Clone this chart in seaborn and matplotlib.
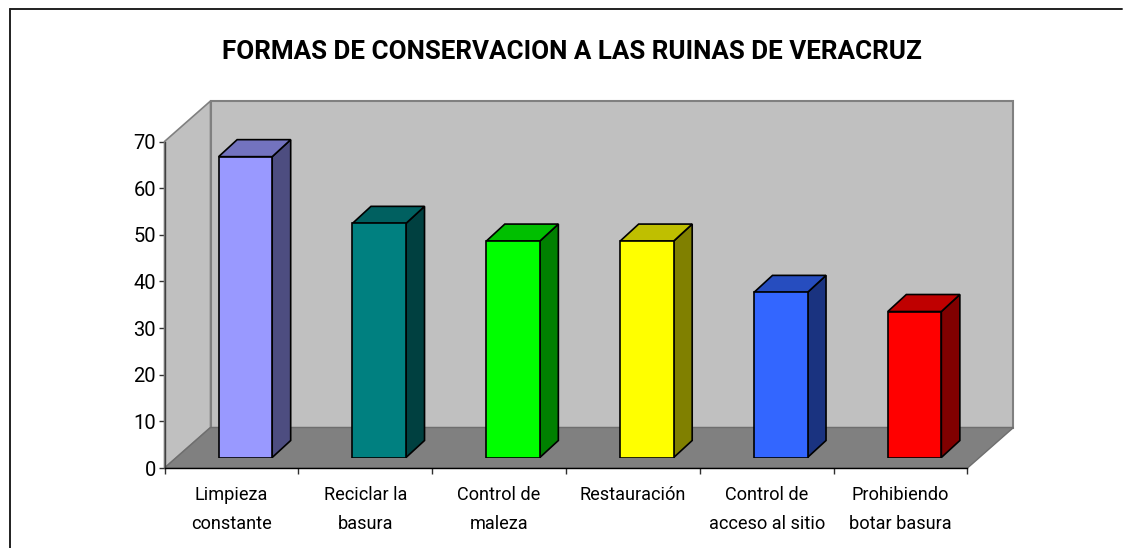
import numpy as np
import pandas as pd
import matplotlib.pyplot as plt
import seaborn as sns
from matplotlib.lines import Line2D
from matplotlib.patches import Polygon

categorias = ["Limpieza\nconstante", "Reciclar la\nbasura", "Control de\nmaleza",
              "Restauración", "Control de\nacceso al sitio", "Prohibiendo\nbotar basura"]
valores = [64.5, 50.2, 46.4, 46.4, 35.4, 31.3]
colores = ["#9999FF", "#008080", "#00FF00", "#FFFF00", "#3366FF", "#FF0000"]
marcas_y = [0, 10, 20, 30, 40, 50, 60, 70]
titulo = "FORMAS DE CONSERVACION A LAS RUINAS DE VERACRUZ"

W, H = 1123, 548

sns.set_style("white")
# Roboto es algo mas angosta, se parece mas al texto estirado del original
plt.rcParams["font.family"] = ["Roboto", "Liberation Sans", "DejaVu Sans"]

fig = plt.figure(figsize=(W / 100, H / 100), dpi=100, facecolor="white")


def caja(x0, y_top, x1, y_bottom):
    # pixeles de la imagen -> rect de figura
    return [x0 / W, 1 - y_bottom / H, (x1 - x0) / W, (y_bottom - y_top) / H]


# ejes del plano frontal
ax = fig.add_axes(caja(164.5, 141.5, 967.5, 468), facecolor="none")
# las barras van un poco adentro del piso
ax2 = fig.add_axes(caja(164.5 + 14, 141.5 - 10.5, 967.5 + 14, 468 - 10.5), facecolor="none")

ax.set_xlim(-0.5, 5.5)
ax.set_ylim(0, 70)

px_x = 6 / 803
px_y = 70 / 326.5
fx, fy = 46 * px_x, 40.5 * px_y

# paredes y piso
x0, x1 = -0.5, 5.5
pared = "#C0C0C0"
borde = "#808080"
ax.add_patch(Polygon([(x0 + fx, fy), (x1 + fx, fy), (x1 + fx, 70 + fy), (x0 + fx, 70 + fy)],
                     fc=pared, ec=borde, lw=1.5, clip_on=False, zorder=1))
ax.add_patch(Polygon([(x0, 0), (x0 + fx, fy), (x0 + fx, 70 + fy), (x0, 70)],
                     fc=pared, ec=borde, lw=1.2, clip_on=False, zorder=1))
ax.add_patch(Polygon([(x0, 0), (x1, 0), (x1 + fx, fy), (x0 + fx, fy)],
                     fc="#808080", ec="#6E6E6E", lw=1.0, clip_on=False, zorder=2))

df = pd.DataFrame({"cat": categorias, "val": valores})
sns.barplot(data=df, x="cat", y="val", hue="cat", palette=colores, legend=False,
            width=0.4, saturation=1, edgecolor="black", linewidth=1.2, ax=ax2, zorder=5)
ax2.set_xlim(-0.5, 5.5)
ax2.set_ylim(0, 70)
ax2.axis("off")

# cara lateral y tapa de cada barra, sacadas de los rectangulos de seaborn
dx, dy = 18.5 * px_x, 17 * px_y
for p, c in zip(ax2.patches, colores):
    a, b = p.get_x(), p.get_x() + p.get_width()
    h = p.get_height()
    rgb = np.array(plt.matplotlib.colors.to_rgb(c))
    ax2.add_patch(Polygon([(b, 0), (b + dx, dy), (b + dx, h + dy), (b, h)],
                          fc=rgb * 0.5, ec="black", lw=1.2, clip_on=False, zorder=4))
    ax2.add_patch(Polygon([(a, h), (b, h), (b + dx, h + dy), (a + dx, h + dy)],
                          fc=rgb * 0.75, ec="black", lw=1.2, clip_on=False, zorder=4))

# ticks
ax.set_yticks(marcas_y)
ax.set_xticks(np.arange(-0.5, 6, 1))
ax.set_xticklabels([])
ax.set_xticks(np.arange(6), labels=categorias, minor=True)
ax.tick_params(axis="y", which="major", left=True, length=4.5, width=1, color="#303030",
               labelsize=14.5, pad=1.5, labelcolor="black")
ax.tick_params(axis="x", which="major", bottom=True, length=4.5, width=1, color="#303030")
ax.tick_params(axis="x", which="minor", bottom=False, labelsize=13.1, pad=11, labelcolor="black")
for t in ax.get_xticklabels(minor=True):
    t.set_linespacing(1.8)
    t.set_va("top")

sns.despine(ax=ax, top=True, right=True)
ax.spines["left"].set_color("#404040")
ax.spines["bottom"].set_color("black")
ax.spines["left"].set_linewidth(1)
ax.spines["bottom"].set_linewidth(1)

fig.text(572 / W, 1 - 52 / H, titulo, ha="center", va="center",
         fontsize=18.7, fontweight="bold", color="black")

# marco del grafico (solo arriba e izquierda quedan dentro de la imagen)
fig.add_artist(Line2D([9.5 / W, 9.5 / W], [0, 1 - 9 / H], color="#202020", lw=1.4))
fig.add_artist(Line2D([9.5 / W, 1122 / W], [1 - 9 / H, 1 - 9 / H], color="#202020", lw=1.4))

fig.savefig("out.png", dpi=100, facecolor="white")
